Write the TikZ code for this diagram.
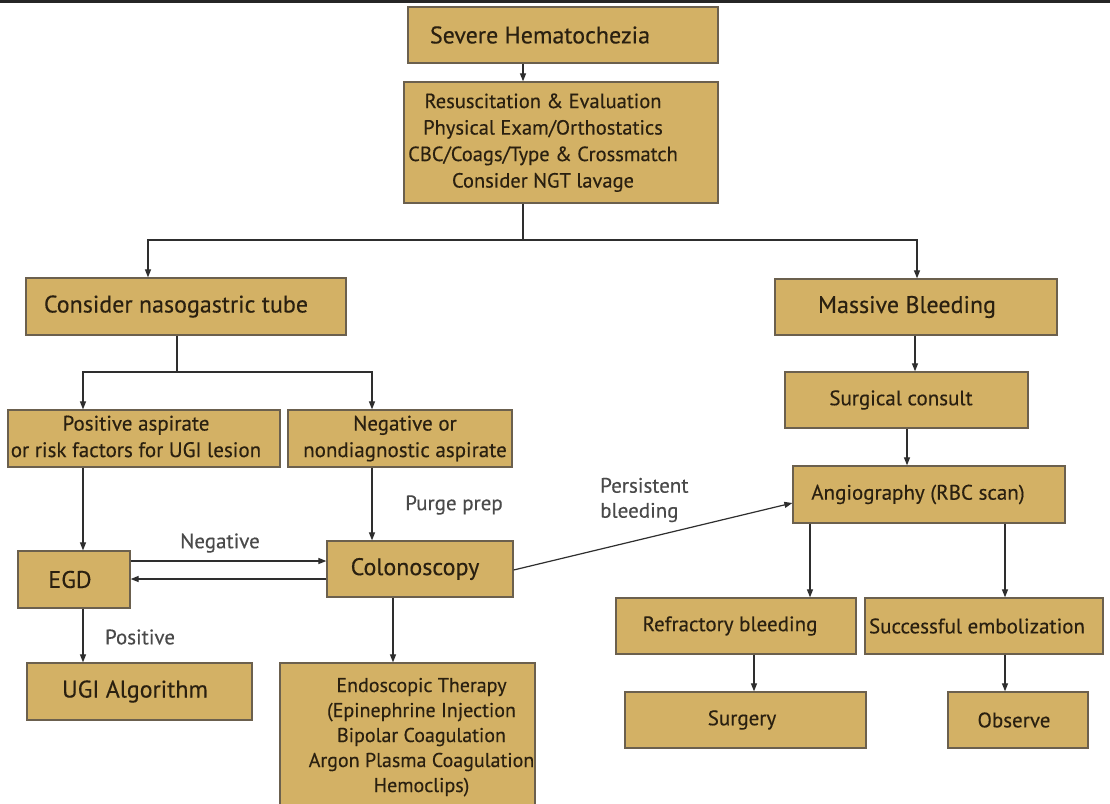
\documentclass[tikz,border=0pt]{standalone}
\usepackage{fontspec}
\setmainfont{PT Sans}[FakeBold=0.3]
\usetikzlibrary{arrows.meta}
\definecolor{boxfill}{HTML}{D3B165}
\definecolor{boxdraw}{HTML}{6B604E}
\definecolor{txt}{HTML}{2A2010}
\definecolor{lblc}{HTML}{4A4A4A}
\definecolor{lnc}{HTML}{2E2E2E}
\newcommand\sh[2]{\makebox[0pt]{\hspace*{#1}#2}}
\newcommand\ml[1]{\begin{tabular}{@{}c@{}}#1\end{tabular}}
\begin{document}
\begin{tikzpicture}[x=1pt,y=-1pt,
  box/.style={draw=boxdraw,fill=boxfill,line width=1.3pt,inner sep=0pt,text=txt,font=\fontsize{21}{26.5}\selectfont},
  big/.style={font=\fontsize{24}{28}\selectfont},
  lab/.style={text=lblc,font=\fontsize{21}{25}\selectfont,inner sep=0pt},
  arr/.style={draw=lnc,line width=1.2pt,-{Triangle[length=8pt,width=6pt]}},
  lnk/.style={draw=lnc,line width=1.2pt}]
\useasboundingbox (0,0) rectangle (1110,803);
\fill[white] (0,0) rectangle (1110,803);
\fill[black!85] (0,0) rectangle (1110,2.5);

% boxes
\node[box,big,minimum width=310pt,minimum height=56pt] (sev) at (563,35) {\sh{-46pt}{Severe Hematochezia}};
\node[box,font=\fontsize{20.5}{26.5}\selectfont,minimum width=314pt,minimum height=121pt] (res) at (561,142.5) {\sh{-36pt}{\ml{Resuscitation \& Evaluation\\Physical Exam/Orthostatics\\CBC/Coags/Type \& Crossmatch\\Consider NGT lavage}}};
\node[box,big,minimum width=320pt,minimum height=57pt] (ngt) at (186,306.5) {\sh{-20pt}{Consider nasogastric tube}};
\node[box,big,minimum width=282pt,minimum height=56pt] (mass) at (916,307) {\sh{-18pt}{Massive Bleeding}};
\node[box,minimum width=272pt,minimum height=57pt] (pos) at (144,438.5) {\sh{-16pt}{\ml{Positive aspirate\\or risk factors for UGI lesion}}};
\node[box,minimum width=224pt,minimum height=57pt] (neg) at (400,438.5) {\sh{10pt}{\ml{Negative or\\nondiagnostic aspirate}}};
\node[box,minimum width=243pt,minimum height=56pt] (sc) at (906.5,400) {\sh{-11pt}{Surgical consult}};
\node[box,minimum width=272pt,minimum height=57pt] (angio) at (929,494.5) {\sh{-22pt}{Angiography (RBC scan)}};
\node[box,big,minimum width=112pt,minimum height=57pt] (egd) at (74,579.5) {\sh{-8pt}{EGD}};
\node[box,big,minimum width=186pt,minimum height=56pt] (colo) at (420,569) {\sh{-10pt}{Colonoscopy}};
\node[box,big,minimum width=225pt,minimum height=57pt] (ugi) at (139.5,691.5) {\sh{-9pt}{UGI Algorithm}};
\node[box,font=\fontsize{20}{25}\selectfont,minimum width=255pt,minimum height=148pt] (endo) at (407.5,737) {\sh{28pt}{\ml{Endoscopic Therapy\\(Epinephrine Injection\\Bipolar Coagulation\\Argon Plasma Coagulation\\Hemoclips)}}};
\node[box,minimum width=240pt,minimum height=56pt] (refr) at (736,626) {\sh{-12pt}{Refractory bleeding}};
\node[box,minimum width=238pt,minimum height=56pt] (succ) at (984,626) {\sh{-14pt}{Successful embolization}};
\node[box,minimum width=241pt,minimum height=56pt] (surg) at (745.5,720) {\sh{-7pt}{Surgery}};
\node[box,minimum width=140pt,minimum height=56pt] (obs) at (1018,720) {\sh{-8pt}{Observe}};

% edge labels
\node[lab] (lneg) at (220,543) {Negative};
\node[lab] (lpos) at (140,637) {Positive};
\node[lab] (lpurge) at (454,505) {Purge prep};
\node[lab,align=left,anchor=west] (lpers) at (600,500) {Persistent\\bleeding};

% helper coordinates
\coordinate (s1) at (523,240);
\coordinate (s2) at (177,372);
\coordinate (xa) at (148,0);
\coordinate (xb) at (917,0);
\coordinate (xc) at (83,0);
\coordinate (xd) at (372,0);
\coordinate (xe) at (393,0);
\coordinate (xf) at (915,0);
\coordinate (xg) at (907,0);
\coordinate (xh) at (810,0);
\coordinate (xi) at (1005,0);
\coordinate (xj) at (754,0);
\coordinate (ya) at (0,561);
\coordinate (yb) at (0,579);
\coordinate (yc) at (0,570);
\coordinate (yd) at (0,503);

% connectors
\draw[arr] (sev.south -| s1) -- (res.north -| s1);
\draw[lnk] (res.south -| s1) -- (s1);
\draw[arr] (s1) -| (ngt.north -| xa);
\draw[arr] (s1) -| (mass.north -| xb);
\draw[lnk] (ngt.south -| s2) -- (s2);
\draw[arr] (s2) -| (pos.north -| xc);
\draw[arr] (s2) -| (neg.north -| xd);
\draw[arr] (pos.south -| xc) -- (egd.north -| xc);
\draw[arr] (neg.south -| xd) -- (colo.north -| xd);
\draw[arr] (egd.east |- ya) -- (colo.west |- ya);
\draw[arr] (colo.west |- yb) -- (egd.east |- yb);
\draw[arr] (egd.south -| xc) -- (ugi.north -| xc);
\draw[arr] (colo.south -| xe) -- (endo.north -| xe);
\draw[arr] (colo.east |- yc) -- (angio.west |- yd);
\draw[arr] (mass.south -| xf) -- (sc.north -| xf);
\draw[arr] (sc.south -| xg) -- (angio.north -| xg);
\draw[arr] (angio.south -| xh) -- (refr.north -| xh);
\draw[arr] (angio.south -| xi) -- (succ.north -| xi);
\draw[arr] (refr.south -| xj) -- (surg.north -| xj);
\draw[arr] (succ.south -| xi) -- (obs.north -| xi);
\end{tikzpicture}
\end{document}
